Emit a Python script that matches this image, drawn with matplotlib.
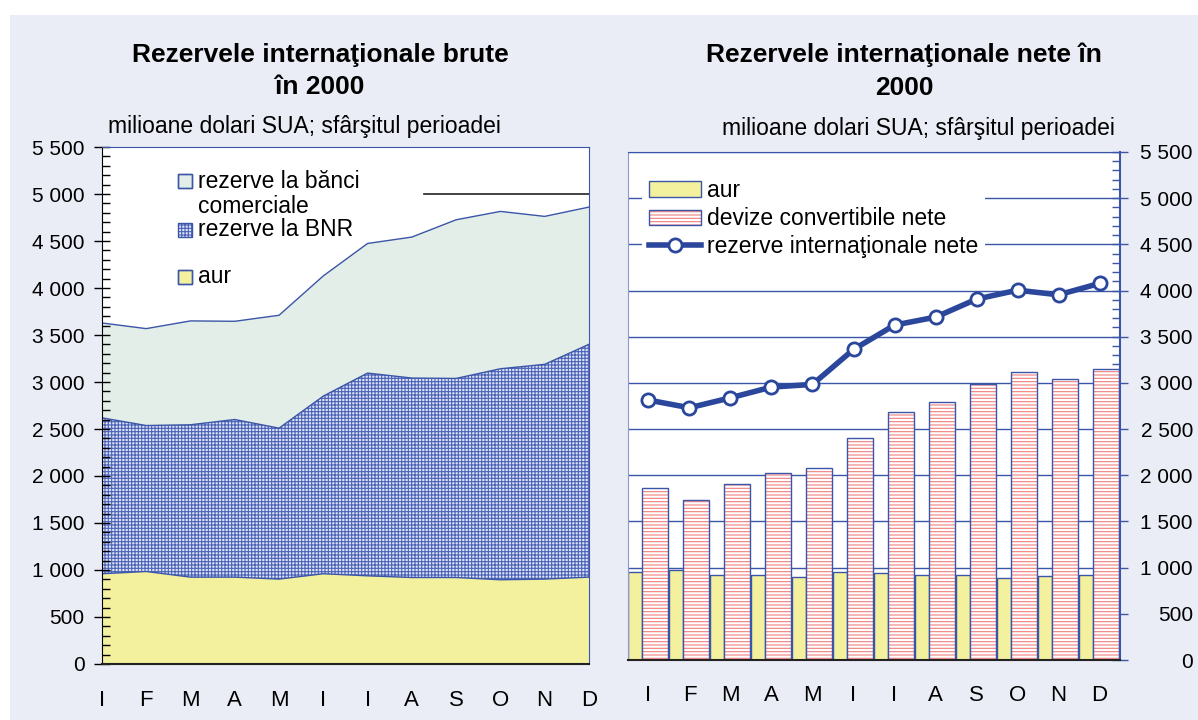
import matplotlib
matplotlib.use("Agg")
import matplotlib.pyplot as plt
import numpy as np
from matplotlib.patches import Rectangle, Patch
from matplotlib.lines import Line2D
from matplotlib.ticker import MultipleLocator, FuncFormatter

plt.rcParams['font.family'] = ['Liberation Sans', 'DejaVu Sans']
plt.rcParams['hatch.linewidth'] = 0.8

# luni (ianuarie ... decembrie)
months = ["I", "F", "M", "A", "M", "I", "I", "A", "S", "O", "N", "D"]

# rezerve brute, mil. USD
aur_brut = [960, 984, 924, 924, 903, 960, 938, 920, 920, 896, 903, 924]
rezerve_bnr = [1659, 1553, 1621, 1677, 1606, 1890, 2157, 2122, 2118, 2245, 2285, 2477]
rezerve_banci = [1009, 1031, 1105, 1045, 1201, 1279, 1379, 1500, 1688, 1674, 1574, 1460]
labels_brute = ["rezerve la bănci\ncomerciale", "rezerve la BNR", "aur"]

# rezerve nete, mil. USD
aur_net = [950, 980, 925, 925, 900, 955, 940, 918, 918, 893, 905, 924]
devize_nete = [1858, 1735, 1901, 2020, 2075, 2399, 2681, 2789, 2984, 3114, 3038, 3146]
rezerve_nete = [2814, 2731, 2839, 2955, 2984, 3362, 3626, 3712, 3907, 4004, 3954, 4077]
labels_nete = ["aur", "devize convertibile nete", "rezerve internaţionale nete"]

BLUE = '#3b55a8'
LINE_BLUE = '#2b479c'
YELLOW = '#f4f19e'
GREEN = '#e3eee8'
RED = '#f07f7f'
HATCH_BLUE = '#4a62b8'
HATCH_BG = '#dde3f4'


def fmt_thousands(v, pos):
    return f"{int(v):,}".replace(",", " ")


def style_yaxis(ax, color):
    ax.set_ylim(0, 5500)
    ax.yaxis.set_major_locator(MultipleLocator(500))
    ax.yaxis.set_minor_locator(MultipleLocator(100))
    ax.yaxis.set_major_formatter(FuncFormatter(fmt_thousands))
    ax.tick_params(axis='y', which='major', direction='inout', length=11,
                   width=1, color=color, labelsize=15)
    ax.tick_params(axis='y', which='minor', direction='in', length=6,
                   width=1, color=color)


fig = plt.figure(figsize=(11.98, 7.2), dpi=100)
fig.patch.set_facecolor('white')
fig.add_artist(Rectangle((10 / 1198, 0), 1, 1 - 15 / 720, transform=fig.transFigure,
                         facecolor='#eaecf6', edgecolor='none', zorder=-10))

# ---------------- stanga: rezerve brute ----------------
ax1 = fig.add_axes([0.0851, 0.0778, 0.4065, 0.718])
x = np.arange(len(months))
c1 = np.array(aur_brut)
c2 = c1 + np.array(rezerve_bnr)
c3 = c2 + np.array(rezerve_banci)

ax1.fill_between(x, 0, c1, facecolor=YELLOW, lw=0)
ax1.fill_between(x, c1, c2, facecolor=HATCH_BG, edgecolor=HATCH_BLUE, hatch='+++++', lw=0)
ax1.fill_between(x, c2, c3, facecolor=GREEN, lw=0)
for c in (c1, c2, c3):
    ax1.plot(x, c, color=BLUE, lw=1)
ax1.axhline(5000, xmin=0.661, color='#222222', lw=1.2)

ax1.set_xlim(0, 11)
style_yaxis(ax1, 'black')
ax1.tick_params(axis='y', which='major', pad=7)
ax1.set_xticks(x, months)
ax1.tick_params(axis='x', length=0, pad=19, labelsize=16)
ax1.spines['left'].set_color('black')
ax1.spines['bottom'].set_color('#222222')
ax1.spines['bottom'].set_linewidth(1.5)
for s in ('top', 'right'):
    ax1.spines[s].set_color(BLUE)

# legenda stanga, desenata manual
box_x, box_w, box_h, text_x = 0.156, 0.0287, 0.027, 0.197
leg_items = [
    (0.921, dict(facecolor=GREEN, edgecolor=BLUE), 0.934),
    (0.826, dict(facecolor=HATCH_BG, edgecolor=HATCH_BLUE, hatch='+++++', lw=0), 0.841),
    (0.735, dict(facecolor=YELLOW, edgecolor=BLUE), 0.749),
]
for (yb, style, yt), lab in zip(leg_items, labels_brute):
    ax1.add_patch(Rectangle((box_x, yb), box_w, box_h, transform=ax1.transAxes, **style))
    ax1.add_patch(Rectangle((box_x, yb), box_w, box_h, transform=ax1.transAxes,
                            fill=False, edgecolor=BLUE, lw=1))
    first, *rest = lab.split("\n")
    ax1.text(text_x, yt, first, transform=ax1.transAxes, fontsize=16.5, va='center')
    if rest:
        ax1.text(text_x, yt - 0.05, rest[0], transform=ax1.transAxes, fontsize=16.5, va='center')

# ---------------- dreapta: rezerve nete ----------------
ax2 = fig.add_axes([0.5242, 0.0833, 0.4107, 0.7056])
ax2.set_axisbelow(True)
ax2.grid(axis='y', color=BLUE, lw=1)
ax2.bar(x - 0.5, aur_net, width=0.34, align='edge', facecolor=YELLOW, edgecolor=BLUE, lw=1)
ax2.bar(x - 0.16, devize_nete, width=0.63, align='edge', facecolor='white',
        edgecolor=RED, hatch='-----', lw=0)
ax2.bar(x - 0.16, devize_nete, width=0.63, align='edge', fill=False, edgecolor=BLUE, lw=1)
ax2.plot(x, rezerve_nete, color=LINE_BLUE, lw=4, marker='o', ms=9.5,
         mfc='white', mec=LINE_BLUE, mew=2, zorder=5)

ax2.set_xlim(-0.5, 11.5)
ax2.yaxis.tick_right()
style_yaxis(ax2, BLUE)
ax2.tick_params(axis='y', which='major', pad=47)
plt.setp(ax2.get_yticklabels(), ha='right')
ax2.set_xticks(x, months)
ax2.tick_params(axis='x', length=0, pad=18, labelsize=16)
ax2.spines['left'].set_color('#8a9ad0')
ax2.spines['top'].set_color(BLUE)
ax2.spines['right'].set_color(BLUE)
ax2.spines['right'].set_linewidth(1.5)
ax2.spines['bottom'].set_color('#222222')
ax2.spines['bottom'].set_linewidth(1.5)

handles = [
    Patch(facecolor=YELLOW, edgecolor=BLUE),
    (Patch(facecolor='white', edgecolor=RED, hatch='-----', lw=0),
     Patch(fill=False, edgecolor=BLUE)),
    Line2D([], [], color=LINE_BLUE, lw=4, marker='o', ms=9.5, mfc='white',
           mec=LINE_BLUE, mew=2),
]
leg = ax2.legend(handles, labels_nete, loc='upper left', bbox_to_anchor=(0.028, 0.96),
                 fontsize=16.5, handlelength=2.3, handleheight=0.65, handletextpad=0.25,
                 labelspacing=0.22, borderpad=0.3, borderaxespad=0, fancybox=False,
                 framealpha=1, facecolor='white', edgecolor='none')
leg.set_zorder(10)

# titluri
fig.text(320 / 1198, 1 - 71 / 720, "Rezervele internaţionale brute\nîn 2000",
         ha='center', va='center', fontsize=19, fontweight='bold', linespacing=1.45)
fig.text(904 / 1198, 1 - 71 / 720, "Rezervele internaţionale nete în\n2000",
         ha='center', va='center', fontsize=19, fontweight='bold', linespacing=1.45)
fig.text(108 / 1198, 1 - 127 / 720, "milioane dolari SUA; sfârşitul perioadei",
         ha='left', va='center', fontsize=16.5)
fig.text(1115 / 1198, 1 - 128 / 720, "milioane dolari SUA; sfârşitul perioadei",
         ha='right', va='center', fontsize=16.5)

fig.savefig("out.png", dpi=100, facecolor=fig.get_facecolor())
